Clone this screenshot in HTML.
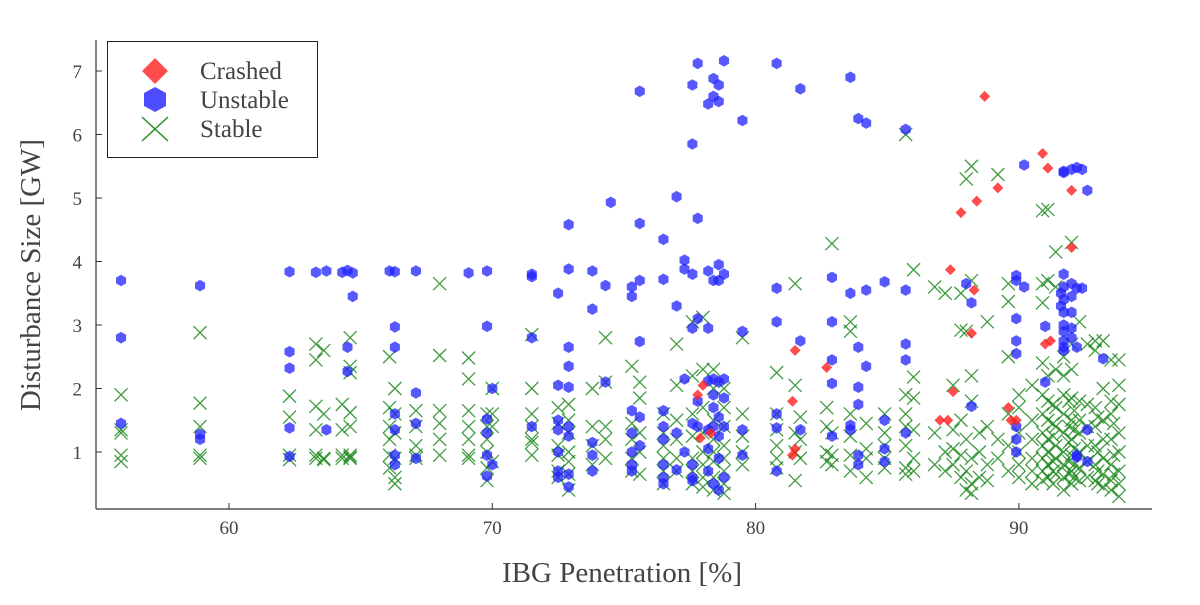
<!DOCTYPE html>
<html><head><meta charset="utf-8"><style>
html,body{margin:0;padding:0;background:#fff;}
svg text{font-family:"Liberation Serif",serif;}
</style></head><body>
<svg id="chart" width="1200" height="600" xmlns="http://www.w3.org/2000/svg">
<g id="stable"></g>
<g id="unstable"></g>
<g id="crashed"></g>
<line x1="96" y1="509" x2="1152" y2="509" stroke="#333" stroke-width="1.2"/>
<line x1="96" y1="40" x2="96" y2="509" stroke="#333" stroke-width="1.2"/>
<g id="xticks"></g>
<g id="yticks"></g>
<text x="622" y="582" font-size="29" fill="#444" text-anchor="middle">IBG Penetration [%]</text>
<text transform="translate(40,275) rotate(-90)" font-size="29" fill="#444" text-anchor="middle">Disturbance Size [GW]</text>
<g>
<rect x="107.5" y="41.5" width="210" height="116" fill="#fff" stroke="#222" stroke-width="1"/>
<g>
<polygon points="155,58 168,71 155,84 142,71" fill="#ff2020" fill-opacity="0.8"/>
<text x="200" y="79" font-size="25" fill="#444">Crashed</text></g>
<g>
<polygon points="155,87 166,93 166,106 155,112 144,106 144,93" fill="#2020ff" fill-opacity="0.8"/>
<text x="200" y="108" font-size="25" fill="#444">Unstable</text></g>
<g>
<path d="M142,117 L168,141 M168,117 L142,141" stroke="#2a8f2a" stroke-width="1.5"/>
<text x="200" y="137" font-size="25" fill="#444">Stable</text></g>
</g>
</svg>
<script>
const xTicks=[60,70,80,90];
const yTicks=[1,2,3,4,5,6,7];
const crashedX=[88.7,90.9,91.1,92.0,89.2,88.4,87.8,92.0,87.4,88.3,88.2,91.0,91.2,81.5,82.7,81.4,78.0,77.8,87.5,89.6,89.7,89.9,87.0,87.3,81.5,81.4,77.9,78.3];
const crashedY=[6.6,5.7,5.47,5.12,5.16,4.95,4.77,4.22,3.87,3.55,2.87,2.7,2.75,2.6,2.33,1.8,2.05,1.9,1.95,1.7,1.5,1.5,1.5,1.5,1.05,0.95,1.22,1.3];
const unstableCols=[[55.9,[3.7,2.8,1.45]],[58.9,[3.62,1.28,1.2]],[62.3,[3.84,2.58,2.32,1.38,0.93]],[63.3,[3.83]],[63.7,[3.85,1.35]],[64.3,[3.83]],[64.5,[3.86,2.65,2.27]],[64.7,[3.45,3.82]],[66.1,[3.85]],[66.3,[3.84,2.97,2.65,1.6,1.35,0.95,0.8]],[67.1,[3.85,1.93,1.45,0.9]],[69.1,[3.82]],[69.8,[3.85,2.98,1.52,1.3,0.95,0.62]],[70.0,[2.0,0.8]],[71.5,[3.8,3.76,2.8,1.4]],[72.5,[3.5,2.05,1.5,1.35,1.0,0.7,0.6]],[72.9,[4.58,3.88,2.65,2.35,2.02,1.4,1.25,0.65,0.45]],[73.8,[3.85,3.25,1.15,0.95,0.7]],[74.3,[3.62,2.1]],[74.5,[4.93]],[75.3,[3.6,3.45,1.65,1.3,1.0,0.8,0.7]],[75.6,[6.68,4.6,3.7,2.74,1.55,1.1]],[76.5,[4.35,3.72,1.65,1.4,1.2,0.8,0.6,0.5]],[77.0,[5.02,3.3,1.3,0.72]],[77.3,[4.02,3.88,2.15,1.0]],[77.6,[6.78,5.85,3.8,2.95,1.45,0.8,0.6,0.55]],[77.8,[7.12,4.68,3.1,1.8,1.4]],[78.2,[6.48,3.85,2.95,2.12,1.35,1.05,0.7]],[78.4,[6.88,6.6,3.7,2.15,1.9,1.7,1.4,0.5]],[78.6,[6.78,6.52,3.95,3.7,2.1,1.55,1.25,0.9,0.4]],[78.8,[7.16,3.8,2.15,1.85,1.4,0.6]],[79.5,[6.22,2.9,1.35,0.95]],[80.8,[7.12,3.58,3.05,1.6,1.38,0.7]],[81.7,[6.72,2.75,1.35]],[82.9,[3.75,3.05,2.45,2.08,1.25]],[83.6,[6.9,3.5,1.42,1.35]],[83.9,[6.25,2.65,2.02,1.75,0.95,0.8]],[84.2,[6.18,3.55,2.35]],[84.9,[3.68,1.5,1.05,0.85]],[85.7,[6.08,3.55,2.7,2.45,1.3]],[88.0,[3.65]],[88.2,[3.35,1.72]],[89.9,[3.78,3.7,3.1,2.75,2.55,1.4,1.2,1.0]],[90.2,[5.52,3.6]],[91.0,[2.98,2.1]],[91.6,[3.3,3.5]],[91.7,[5.4,5.42,3.8,3.6,3.4,3.2,3.0,2.9,2.75,2.65,2.6]],[92.0,[5.45,3.65,3.45,3.2,2.95,2.8]],[92.2,[5.48,3.58,2.65,0.95,0.92]],[92.4,[5.45,3.58]],[92.6,[5.12,1.35,0.85]],[93.2,[2.47]]];
const stableCols=[[55.9,[1.9,1.35,1.3,0.95,0.85]],[58.9,[2.88,1.77,1.4,0.95,0.9]],[62.3,[1.88,1.55,0.95,0.88]],[63.3,[2.7,2.45,1.72,1.35,0.95,0.9]],[63.6,[2.6,1.6,0.9,0.88]],[64.3,[1.75,1.35,0.95,0.9]],[64.6,[2.8,2.35,2.25,1.62,1.4,0.95,0.9,0.92]],[66.1,[2.5,1.7,1.4,1.2,0.95,0.75]],[66.3,[2.0,1.6,1.3,0.9,0.6,0.5]],[67.1,[1.65,1.4,1.1,0.95,0.9]],[68.0,[3.65,2.52,1.65,1.45,1.2,0.95]],[69.1,[2.48,2.15,1.65,1.4,1.2,0.95,0.9]],[69.8,[1.6,1.4,1.2,1.0,0.75,0.55]],[70.0,[2.0,1.6,1.4,0.85]],[71.5,[2.85,2.0,1.6,1.4,1.2,1.15,0.95]],[72.5,[1.7,1.45,1.1,0.95,0.7,0.6]],[72.9,[1.75,1.5,1.3,1.0,0.85,0.65,0.4]],[73.8,[2.0,1.4,1.1,0.8]],[74.3,[2.8,2.1,1.4,1.2,0.9]],[75.3,[2.35,1.45,1.2,0.9,0.7]],[75.6,[2.1,1.85,1.3,1.0,0.65]],[76.5,[1.6,1.3,1.1,0.9,0.7,0.5]],[77.0,[2.7,2.05,1.5,1.2,0.9,0.7]],[77.6,[3.05,2.2,1.6,1.25,0.9,0.7,0.5]],[78.0,[3.12,2.3,1.7,1.3,1.0,0.8,0.6,0.45]],[78.4,[2.3,2.0,1.5,1.2,1.0,0.85,0.6,0.4]],[78.8,[2.0,1.7,1.4,1.1,0.9,0.7,0.5,0.35]],[79.5,[2.8,1.6,1.25,1.0,0.8]],[80.8,[2.25,1.6,1.35,1.1,0.9,0.75]],[81.5,[3.65,2.05,1.3,1.0,0.55]],[81.7,[1.55,1.2,0.9]],[82.7,[1.7,1.4,1.0,0.85]],[82.9,[4.28,1.3,0.95,0.8]],[83.6,[3.05,2.9,1.6,1.25,0.95,0.7]],[84.2,[1.45,1.05,0.9,0.6]],[84.9,[1.6,1.3,1.1,0.9,0.75]],[85.7,[6.0,1.9,1.6,1.4,1.1,0.75,0.65]],[86.0,[3.87,2.18,1.85,1.35,0.9,0.7]],[86.8,[3.6,1.3,0.8]],[87.2,[3.5,1.0,0.7]],[87.5,[2.05,1.35,1.05,0.8]],[87.8,[3.5,2.92,1.5,0.95,0.6]],[88.0,[5.3,2.9,1.2,0.7,0.4]],[88.2,[5.5,3.7,2.2,1.8,0.9,0.5,0.35]],[88.5,[1.3,1.0,0.6]],[88.8,[3.05,1.4,0.8,0.55]],[89.2,[5.37,1.2,0.9]],[89.6,[3.65,3.37,2.5,1.6,1.1,0.7]],[90.0,[1.9,1.7,1.3,1.0,0.8,0.6]],[90.5,[2.05,1.5,1.2,0.9,0.7,0.5]],[90.9,[4.8,3.65,3.35,2.4,1.9,1.6,1.3,1.1,0.9,0.7,0.55]],[91.1,[4.82,3.7,2.2,1.8,1.5,1.2,1.0,0.8,0.6]],[91.3,[1.75,1.45,1.25,0.85,0.7,0.5]],[91.4,[4.15,3.6,2.3,1.7,1.4,1.1,0.9,0.65]],[91.7,[2.5,2.2,1.9,1.6,1.3,1.0,0.8,0.6,0.4]],[91.9,[1.8,1.4,1.15,0.85,0.65]],[92.0,[4.3,2.7,2.3,1.85,1.5,1.2,0.95,0.7,0.5]],[92.1,[1.65,1.35,1.05,0.8,0.6]],[92.3,[3.05,1.8,1.5,1.3,1.0,0.75,0.55]],[92.6,[2.7,1.75,1.4,1.1,0.85,0.6]],[92.9,[2.75,2.6,1.7,1.4,1.1,0.8,0.55]],[93.0,[1.55,1.0,0.7,0.5]],[93.2,[2.75,2.0,1.5,1.2,0.9,0.65,0.45]],[93.5,[2.45,1.8,1.6,1.2,0.8,0.55,0.4]],[93.6,[1.45,0.95,0.65]],[93.8,[2.45,2.05,1.75,1.3,1.0,0.7,0.5,0.3]]];

const NS="http://www.w3.org/2000/svg";
function sx(v){return 229+(v-60)*26.33;}
function sy(v){return 452-(v-1)*63.5;}
function mk(tag,attrs,parent){const e=document.createElementNS(NS,tag);for(const k in attrs)e.setAttribute(k,attrs[k]);parent.appendChild(e);return e;}

const xt=document.getElementById('xticks');
xTicks.forEach(t=>{
  const l=mk('line',{x1:sx(t),x2:sx(t),y1:509,y2:503,stroke:'#333'},xt);
  
  
  const tx=mk('text',{x:sx(t),y:534,'font-size':19,fill:'#444','text-anchor':'middle'},xt);
  tx.textContent=t;
  
  
});
const yt=document.getElementById('yticks');
yTicks.forEach(t=>{
  const l=mk('line',{x1:96,x2:102,y1:sy(t),y2:sy(t),stroke:'#333'},yt);
  
  
  const tx=mk('text',{x:82,y:sy(t)+7,'font-size':19,fill:'#444','text-anchor':'end'},yt);
  tx.textContent=t;
  
  
});

const gs=document.getElementById('stable');
stableCols.forEach(c=>c[1].forEach(v=>{
  const x=sx(c[0]),y=sy(v),r=6.5;
  const p=mk('path',{d:`M${x-r},${y-r}L${x+r},${y+r}M${x+r},${y-r}L${x-r},${y+r}`,stroke:'#1f8a1f','stroke-opacity':0.85,'stroke-width':1.3,fill:'none'},gs);
  
  
}));
const gu=document.getElementById('unstable');
unstableCols.forEach(c=>c[1].forEach(v=>{
  const x=sx(c[0]),y=sy(v),r=5.8;
  let pts=[];for(let i=0;i<6;i++){const a=Math.PI/6+i*Math.PI/3;pts.push((x+r*Math.cos(a)).toFixed(1)+','+(y+r*Math.sin(a)).toFixed(1));}
  const p=mk('polygon',{points:pts.join(' '),fill:'#2020ff','fill-opacity':0.75},gu);
  
  
}));
const gc=document.getElementById('crashed');
crashedX.forEach((xv,i)=>{
  const x=sx(xv),y=sy(crashedY[i]),r=5.5;
  const p=mk('polygon',{points:`${x},${y-r} ${x+r},${y} ${x},${y+r} ${x-r},${y}`,fill:'#ff2020','fill-opacity':0.8},gc);
  
  
});
</script>
</body></html>
